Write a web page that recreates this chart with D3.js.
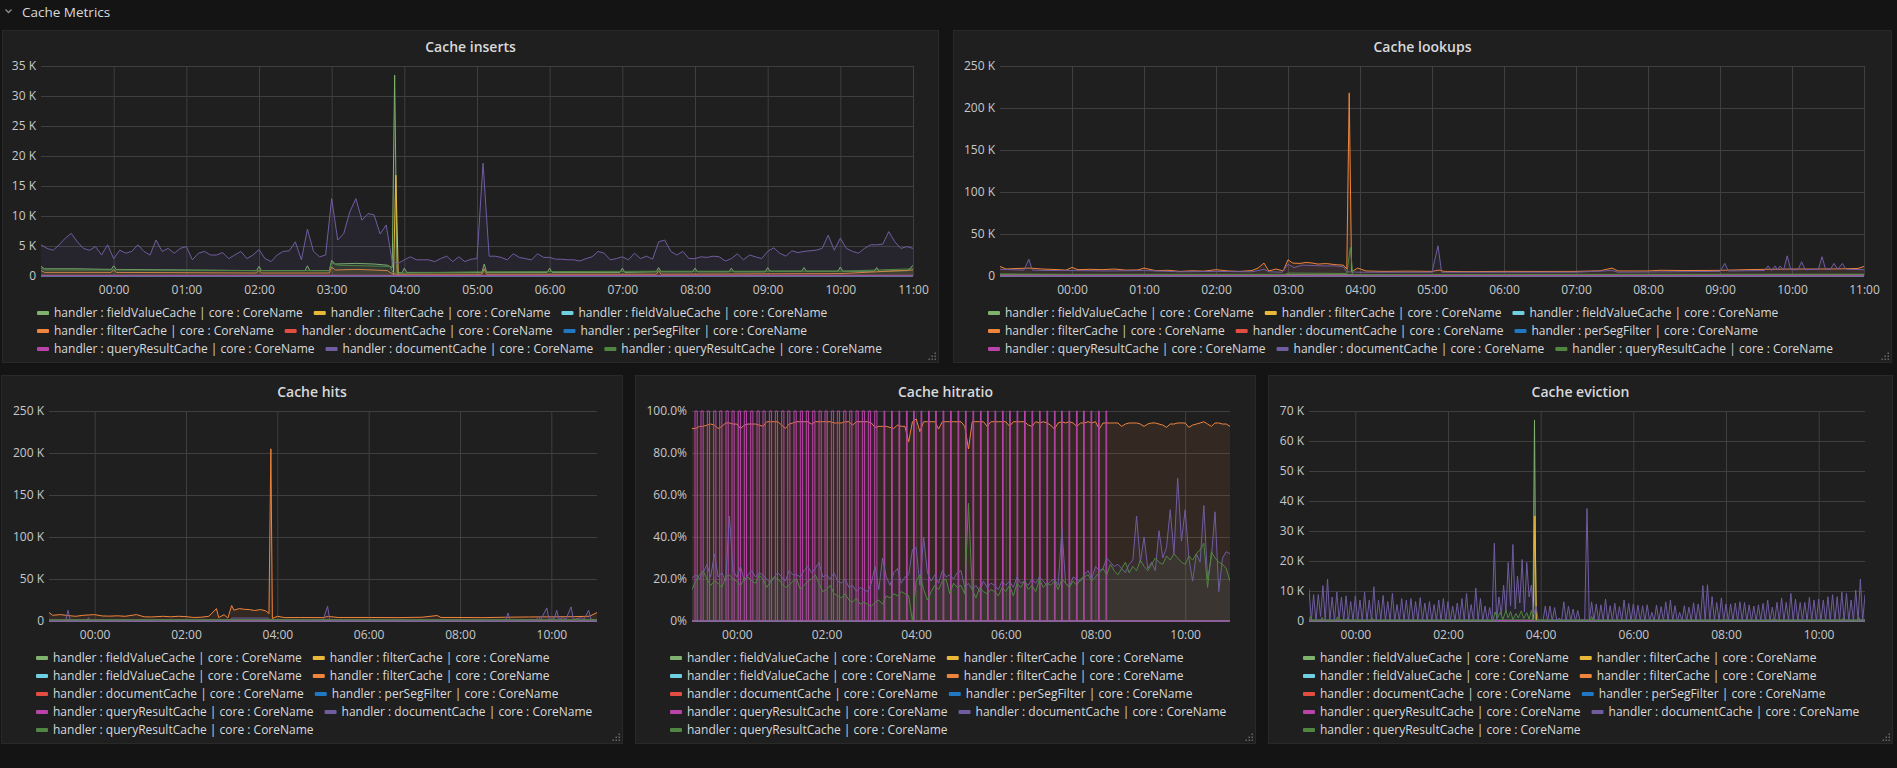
<!DOCTYPE html>
<html>
<head>
<meta charset="utf-8">
<title>Cache Metrics</title>
<script src="https://cdn.jsdelivr.net/npm/d3@7"></script>
<style>
  html, body { margin: 0; padding: 0; background: #141414; overflow: hidden; }
  svg { display: block; font-family: "Open Sans", "DejaVu Sans", sans-serif; }
</style>
</head>
<body>
<svg id="dash" width="1897" height="768"></svg>
<script>
// time is in minutes after midnight, the dashboard shows 23:00 .. 11:00
var T0 = -60, T1 = 660;

var legendNames = [
  "handler : fieldValueCache | core : CoreName",
  "handler : filterCache | core : CoreName",
  "handler : fieldValueCache | core : CoreName",
  "handler : filterCache | core : CoreName",
  "handler : documentCache | core : CoreName",
  "handler : perSegFilter | core : CoreName",
  "handler : queryResultCache | core : CoreName",
  "handler : documentCache | core : CoreName",
  "handler : queryResultCache | core : CoreName"
];
var seriesColors = ["#7eb26d", "#eab839", "#6ed0e0", "#ef843c", "#e24d42", "#1f78c1", "#ba43a9", "#705da0", "#508642"];

var hourTicks = [0, 1, 2, 3, 4, 5, 6, 7, 8, 9, 10, 11];
var twoHourTicks = [0, 2, 4, 6, 8, 10];
var insertsTicks = [0, 5, 10, 15, 20, 25, 30, 35];
var lookupsTicks = [0, 50, 100, 150, 200, 250];
var ratioTicks = [0, 20, 40, 60, 80, 100];
var evictionTicks = [0, 10, 20, 30, 40, 50, 60, 70];

var flatZero = [[-60, 0], [660, 0]];

// ---- Cache inserts (K), plain arrays are evenly spaced from 23:00 to 11:00
var insertsDocument = [
  5.2,4.6,4.3,5.2,6.3,7.1,5.7,4.6,4.3,4.9,3.5,5.2,
  2.9,4.3,3.8,4.1,5.2,4.1,3.5,6.0,4.1,4.6,3.8,4.6,
  4.9,2.7,3.8,4.1,3.5,3.5,3.9,2.9,3.5,4.1,2.9,3.5,
  4.4,2.9,2.4,3.5,4.1,4.2,5.7,2.7,7.8,4.1,3.2,3.5,
  12.9,6.0,7.1,10.7,12.9,9.3,10.4,10.2,7.0,8.5,2.4,2.1,
  2.7,3.2,2.7,2.7,2.7,2.4,2.9,3.3,2.4,3.2,2.4,2.8,
  2.9,18.8,3.3,3.3,3.1,2.7,3.7,3.1,2.9,2.7,3.7,3.1,
  3.1,2.8,2.8,2.7,2.7,2.5,2.9,3.2,4.1,3.8,2.7,2.9,
  3.2,2.7,3.8,2.9,3.3,2.8,5.7,6.0,4.1,3.5,4.1,2.9,
  2.9,3.2,3.1,3.3,3.2,2.5,2.9,3.7,2.7,3.5,3.2,2.9,
  4.1,4.7,3.8,3.3,4.2,3.9,4.1,4.2,4.3,4.6,6.8,4.3,
  6.3,4.6,4.1,3.8,4.6,5.2,5.2,5.3,7.4,5.7,4.6,4.9,
  4.6
];
var insertsFieldValue = [[-60,1.6],[-57,1.2],[-30,1.2],[-2,1.1],[0,1.7],[2,1.1],[60,1.0],[118,0.9],[120,1.6],[122,0.9],
  [158,0.9],[160,1.7],[162,0.9],[178,0.9],[180,2.6],[183,2.0],[200,2.1],[215,2.0],[226,1.8],[230,1.4],[232,33.5],[234,0.6],
  [238,0.5],[240,1.3],[242,0.6],[304,0.6],[306,2.0],[308,0.6],[358,0.6],[360,1.3],[362,0.6],[418,0.6],[420,1.3],[422,0.6],
  [448,0.7],[450,1.4],[452,0.7],[478,0.7],[480,1.3],[482,0.7],[508,0.7],[510,1.3],[512,0.7],[538,0.7],[540,1.4],[542,0.8],
  [568,0.8],[570,1.4],[572,0.8],[598,0.8],[600,1.5],[602,0.8],[628,0.8],[630,1.4],[632,0.8],[656,0.9],[660,1.8]];
var insertsFilterSpike = [[-60,0.1],[231,0.1],[233,16.8],[235,0.1],[660,0.1]];
var insertsFilter = [[-60,0.9],[-57,0.6],[-2,0.6],[0,1.1],[2,0.6],[118,0.5],[120,1.0],[122,0.5],[178,0.5],[180,1.5],
  [183,1.0],[200,1.1],[215,1.0],[226,0.9],[229,0.5],[232,0.3],[304,0.3],[306,1.2],[308,0.3],[448,0.3],[450,0.9],[452,0.3],
  [600,0.4],[660,1.0]];
var insertsQueryResult = [[-60,0.1],[660,0.1]];
var insertsQueryResultGreen = [[-60,1.3],[-57,1.0],[0,1.0],[120,0.9],[178,0.9],[180,2.2],[185,1.8],[228,1.6],[231,0.5],
  [240,0.5],[306,0.7],[450,0.8],[600,0.8],[660,1.2]];

// ---- Cache lookups (K)
var lookupsFilter = [[-60,11.4],[-55,8.3],[-45,9.0],[-35,9.4],[-25,8.3],[-15,7.8],[-5,7.0],[0,10.2],[5,7.5],[15,8.0],
  [25,7.5],[35,8.3],[45,7.0],[55,7.2],[60,9.4],[70,6.3],[80,6.8],[90,5.5],[100,6.2],[110,5.8],[120,7.5],[130,6.0],
  [140,5.5],[150,6.5],[155,9.4],[160,15.4],[164,6.0],[170,8.3],[176,6.0],[180,19.3],[184,15.4],[190,15.0],[195,16.1],
  [200,15.5],[205,14.2],[212,14.8],[220,13.4],[226,13.0],[229,8.3],[231,218],[233,5.0],[238,9.4],[245,6.0],[260,5.5],
  [280,5.8],[300,5.5],[306,7.0],[310,5.5],[330,5.2],[360,5.5],[390,5.4],[420,5.5],[440,6.2],[450,9.4],[455,6.0],
  [480,6.0],[490,6.8],[510,6.5],[540,6.7],[560,7.5],[580,8.0],[600,8.3],[620,8.3],[640,8.5],[655,9.0],[660,11.4]];
var lookupsDocument = [[-60,8],[-50,7.5],[-40,7],[-36,20],[-33,7],[-20,6.5],[0,6.5],[30,6],[60,6.5],[90,5],[120,5.5],
  [150,5],[160,8],[164,5],[175,4.5],[180,14],[185,10],[192,13],[200,12.5],[210,12],[220,12],[226,11],[229,5],[240,4.5],
  [300,4.5],[305,36],[308,4.5],[360,4.5],[420,4.5],[450,6.5],[455,4.5],[500,5],[540,5.5],[544,15],[547,6],[577,6.5],
  [580,12],[583,6.5],[586,12],[588,7],[590,12],[593,7],[596,24],[599,7.5],[605,7.5],[608,17],[611,7.5],[622,8],[625,23],
  [628,8],[632,8],[635,15],[638,8],[642,15],[645,8],[660,7.5]];
var lookupsFieldValue = [[-60,1.5],[660,1.5]];
var lookupsQueryResult = [[-60,0.4],[660,0.4]];
var lookupsQueryResultGreen = [[-60,2.5],[0,2],[178,2],[180,3.5],[229,3],[232,34],[234,1.5],[300,1.8],[660,2.2]];

// ---- Cache hits (K)
var hitsFilter = [[-60,10],[-55,6.8],[-45,7.6],[-35,6.5],[-25,5.6],[-15,6.8],[0,7.6],[10,6],[20,5.8],[30,6.2],[40,5.6],
  [55,7.6],[65,5],[75,4.8],[90,5.6],[100,5],[110,5.6],[120,5.2],[130,4.2],[140,4.5],[150,5.6],[160,14.8],[163,4.0],
  [170,7.5],[175,3.5],[180,18.4],[183,12.8],[190,14.8],[196,14.0],[203,13.6],[210,12.5],[218,13.6],[225,12],[229,8.8],
  [231.5,205],[233.5,3.0],[240,5.6],[250,4.0],[270,4.2],[300,4.0],[307,5.5],[320,4.2],[360,4.2],[400,4.0],[430,4.5],
  [450,6.5],[455,4.2],[480,4.2],[510,4.0],[540,4.5],[570,4.8],[600,5.0],[630,5.2],[650,5.6],[660,10]];
var hitsDocument = [[-60,1],[-38,1],[-35,12.8],[-32,1],[-10,1.2],[-8,4],[-6,1],[178,1],[180,3.5],[228,3.5],[231,1],
  [300,1],[306,17.6],[309,1],[540,1],[543,9.6],[546,1],[580,1.5],[583,5],[586,1.5],[594,15.6],[597,2],[604,3],[607,12.8],
  [610,2],[615,4],[619,2],[626,16.8],[629,2],[640,4],[643,2],[649,12.8],[652,2],[660,1]];
var hitsFieldValue = [[-60,1.0],[660,1.0]];
var hitsQueryResult = [[-60,0.2],[660,0.2]];
var hitsQueryResultGreen = [[-60,1.3],[180,1.5],[230,1.5],[660,1.3]];

// ---- Cache hitratio (%)
var ratioFilter = [
  91.7,91.7,92.7,92.7,93.3,93.8,93.3,91.7,92.7,94.3,94.3,93.8,
  93.8,91.7,93.3,93.8,93.8,93.8,93.3,92.7,94.9,94.9,94.9,94.9,
  93.3,91.7,93.8,94.3,94.9,94.9,94.9,94.9,93.8,94.9,94.9,94.9,
  94.9,94.9,94.3,94.3,94.3,94.9,94.9,93.3,94.9,94.9,94.9,94.9,
  94.3,92.2,92.7,92.7,92.7,92.2,91.7,93.3,92.7,92.7,85.4,94.9,
  96.2,90.2,94.9,94.9,94.9,94.9,91.4,94.9,94.9,94.9,94.9,94.9,
  94.9,92.7,81.9,94.9,94.9,94.9,94.9,92.7,94.9,94.9,94.9,94.9,
  94.9,92.7,94.9,94.9,94.9,94.9,93.3,92.7,94.9,94.3,94.9,94.3,
  93.3,91.4,94.3,94.9,94.3,94.9,94.3,92.7,94.3,94.3,94.9,94.3,
  94.9,91.4,94.3,94.3,94.3,94.3,94.3,92.7,93.8,94.3,94.3,94.3,
  93.8,92.7,93.8,94.3,94.3,93.8,93.3,92.2,93.8,93.8,94.3,94.3,
  94.3,92.2,93.3,93.8,94.3,94.9,93.8,92.7,94.3,94.3,93.8,93.8,
  92.7
];
var ratioDocument = [
  20.5,22,20,23,27,21,32,21,23,19,50,24,
  21,26,19,22,24,21,23,22,20,18,21,23,
  21,19,24,22,22,21,24,26,23,25,28,21,
  22,20,23,19,18,20,16,17,14,16,15,14,
  18,26,15,30,21,17,23,25,18,21,22,34,
  35,17,40,23,19,22,18,24,21,22,20,23,
  24,16,18,15,17,14,19,16,18,17,15,19,
  17,19,16,21,18,19,17,20,18,21,19,17,
  19,20,17,44,18,16,21,20,19,22,24,20,
  26,24,25,30,28,26,27,25,23,27,29,50,
  28,40,25,28,24,43,30,35,53,32,68,38,
  53,30,19,32,28,55,20,30,52,14,30,33,
  32
];
var ratioQueryResultGreen = [
  15,19,22,24,20,17,19,18,16,21,22,20,
  19,17,20,21,19,18,22,20,16,19,21,20,
  18,16,17,19,20,15,17,19,20,22,18,14,
  15,17,13,12,11,13,10,9,11,8,9,8,
  7,9,10,8,12,11,13,12,14,13,12,0,
  19,22,15,10,14,17,15,19,20,13,18,16,
  17,13,56,15,11,16,14,13,15,14,12,16,
  14,17,12,18,16,19,15,17,14,20,16,18,
  17,19,15,20,18,16,19,17,20,21,22,19,
  21,23,25,22,27,24,22,25,28,23,26,24,
  29,26,24,27,30,28,27,31,29,32,30,28,
  27,31,29,32,34,37,16,33,30,28,27,25,
  19
];
// queryResultCache jumps between 0 and 100 %: [up, down] in minutes
var ratioQueryResultHigh = 100;
var ratioQueryResultPulses = [
  [-56,-53],[-48,-45],[-39.5,-36.5],[-31,-28],[-23,-20],[-14.5,-11.5],[-6.5,-3.5],[2,5],[10,13],[18.5,21.5],
  [27,30],[35,38],[43.5,46.5],[51.5,54.5],[60,63],[68,71],[76.5,79.5],[85,88],[93,96],[101.5,104.5],
  [110,113],[118,121],[126.5,129.5],[134.5,137.5],[143,146],[151,154],[159.5,162.5],[168,171],[176,179],[184.5,187.5],
  [197,198],[207,208],[217,218],[227,228],[236.5,237.5],[246.5,247.5],[256.5,257.5],[266,267],[276,277],[286,287],
  [296,297],[306,307],[316,317],[326,327],[335.5,336.5],[345.5,346.5],[355.5,356.5],[365,366],[375,376],[385,386],
  [395,396],[405,406],[415,416],[425,426],[434.5,435.5],[444.5,445.5],[454.5,455.5],[464,465],[474,475],[484,485],[494,495]
];

// ---- Cache eviction (K)
var evictionDocument = [
  10.7,0, 8.8,0, 8.8,1.5, 11.8,0, 14.0,0, 8.0,0, 9.7,0.5, 8.0,0, 8.4,0, 6.5,0,
  8.4,0, 7.0,0, 9.6,0, 7.0,0, 11.4,0, 7.0,0.5, 8.5,0, 6.5,0, 9.2,0, 5.5,0,
  7.5,0, 7.0,0, 7.5,0, 6.5,0, 7.8,0, 6.0,0, 6.5,0, 5.5,0, 7.0,0, 7.5,0,
  6.5,0, 5.0,0, 6.0,0, 7.5,0, 9.2,0, 5.5,0, 11.0,0, 7.5,0, 5.0,0, 4.5,0,
  25.9,0, 8.0,2, 12.0,3, 19.5,5, 25.5,4, 15.0,6, 20.5,3, 19.5,8, 12.0,2, 5.0,0,
  0,0, 5.0,0, 5.0,0, 4.5,0, 1.0,0, 6.4,0, 5.0,0, 4.0,0, 3.5,0, 0.5,0,
  37.5,0, 6.4,0, 5.7,0, 5.4,0, 7.3,0, 5.1,0, 5.9,0, 4.8,0, 7.0,0, 5.9,0,
  5.7,0, 5.3,0, 5.1,0, 5.4,0, 2.9,0, 5.3,0, 4.8,0, 6.4,0, 7.0,0, 5.1,0,
  2.9,0, 5.1,0, 4.6,0, 6.1,0, 5.7,0, 11.8,0, 12.1,0, 8.1,0, 6.2,0, 7.7,0,
  5.7,0, 5.7,0, 6.0,0, 6.4,0, 6.2,0, 5.4,0, 5.0,0, 5.4,0, 5.9,0, 7.0,0,
  4.6,0, 6.2,0, 7.7,0, 6.2,0, 9.2,0, 7.3,0, 6.2,0, 6.2,0, 7.9,0, 7.0,0,
  7.3,0, 7.0,0, 8.1,0, 8.8,0, 8.1,0, 9.6,0, 9.2,0, 7.0,0, 10.3,0, 14.0,0,
  8.8
];
var evictionFieldValue = [[-60,0.3],[230,0.3],[232,67],[234,0.3],[660,0.3]];
var evictionFilterSpike = [[-60,0],[230.5,0],[232.5,35],[234.5,0],[660,0]];
var evictionQueryResult = [[-60,0.15],[660,0.15]];
var evictionQueryResultGreen = [[-60,0.2],[-58,1.6],[-56,0.2],[-45,0.3],[-43,1.2],[-41,0.2],[-25,0.2],[-23,1.4],[-21,0.2],
  [-12,0.2],[-10,1.0],[-8,0.2],[20,0.2],[22,1.0],[24,0.2],[100,0.2],[178,0.2],[181,3],[184,1],[188,3],[191,0.5],[195,3.5],
  [198,1],[201,3.2],[204,0.5],[208,2.5],[211,1],[215,3.4],[218,0.8],[222,2.8],[225,0.6],[228,3.5],[231,0.2],[304,0.2],
  [306,1.5],[308,0.2],[540,0.2],[542,0.8],[544,0.2],[630,0.2],[632,1.0],[634,0.2],[650,0.2],[652,1.2],[654,0.2],[660,0.4]];

function fmtK(v) { return v === 0 ? "0" : v + " K"; }
function fmtPct(v) { return v === 0 ? "0%" : v.toFixed(1) + "%"; }
function fmtHour(m) { var h = m / 60; return (h < 10 ? "0" : "") + h + ":00"; }

function toPoints(d) {
  if (typeof d[0] === "number") {
    var step = (T1 - T0) / (d.length - 1);
    return d.map(function(v, i) { return [T0 + i * step, v]; });
  }
  return d;
}

function pulsePoints(pulses, high) {
  var pts = [[T0, 0]];
  pulses.forEach(function(p) { pts.push([p[0], 0], [p[0], high], [p[1], high], [p[1], 0]); });
  pts.push([T1, 0]);
  return pts;
}

var panels = [
  { title: "Cache inserts", box: [2, 30, 937, 333], plot: [41, 66, 913, 276], yTicks: insertsTicks, xTicks: hourTicks, fmt: fmtK,
    series: [insertsFieldValue, insertsFilterSpike, flatZero, insertsFilter, flatZero, flatZero, insertsQueryResult, insertsDocument, insertsQueryResultGreen] },
  { title: "Cache lookups", box: [953, 30, 939, 333], plot: [1000, 66, 1864, 276], yTicks: lookupsTicks, xTicks: hourTicks, fmt: fmtK,
    series: [lookupsFieldValue, flatZero, flatZero, lookupsFilter, flatZero, flatZero, lookupsQueryResult, lookupsDocument, lookupsQueryResultGreen] },
  { title: "Cache hits", box: [1, 375, 622, 369], plot: [49, 411, 597, 621], yTicks: lookupsTicks, xTicks: twoHourTicks, fmt: fmtK,
    series: [hitsFieldValue, flatZero, flatZero, hitsFilter, flatZero, flatZero, hitsQueryResult, hitsDocument, hitsQueryResultGreen] },
  { title: "Cache hitratio", box: [635, 375, 621, 369], plot: [692, 411, 1230, 621], yTicks: ratioTicks, xTicks: twoHourTicks, fmt: fmtPct,
    series: [flatZero, flatZero, flatZero, ratioFilter, flatZero, flatZero, pulsePoints(ratioQueryResultPulses, ratioQueryResultHigh), ratioDocument, ratioQueryResultGreen] },
  { title: "Cache eviction", box: [1268, 375, 625, 369], plot: [1309, 411, 1865, 621], yTicks: evictionTicks, xTicks: twoHourTicks, fmt: fmtK,
    series: [evictionFieldValue, evictionFilterSpike, flatZero, flatZero, flatZero, flatZero, evictionQueryResult, evictionDocument, evictionQueryResultGreen] }
];

var svg = d3.select("#dash");

// row header
svg.append("path").attr("d", "M5.5,9.5 L8.5,12.5 L11.5,9.5")
   .attr("fill", "none").attr("stroke", "#8e8e8e").attr("stroke-width", 1.3);
svg.append("text").attr("x", 22).attr("y", 16.5).attr("font-size", 13.5).attr("fill", "#d8d9da").text("Cache Metrics");

panels.forEach(function(p, pi) {
  var bx = p.box[0], by = p.box[1], bw = p.box[2], bh = p.box[3];
  var pl = p.plot[0], pt = p.plot[1], pr = p.plot[2], pb = p.plot[3];
  var g = svg.append("g");

  g.append("rect").attr("x", bx + 0.5).attr("y", by + 0.5).attr("width", bw - 1).attr("height", bh - 1)
   .attr("fill", "#1f1f20").attr("stroke", "#292929");

  g.append("text").attr("x", bx + bw / 2).attr("y", by + 21.5).attr("text-anchor", "middle")
   .attr("font-size", 14).attr("font-weight", 600).attr("fill", "#d8d9da").text(p.title);

  var x = d3.scaleLinear().domain([T0, T1]).range([pl, pr]);
  var y = d3.scaleLinear().domain([0, d3.max(p.yTicks)]).range([pb, pt]);

  var yAxis = g.append("g").attr("transform", "translate(" + pl + ",0)")
    .call(d3.axisLeft(y).tickValues(p.yTicks).tickFormat(p.fmt).tickSize(-(pr - pl)).tickPadding(5));
  var xAxis = g.append("g").attr("transform", "translate(0," + pb + ")")
    .call(d3.axisBottom(x).tickValues(p.xTicks.map(function(h) { return h * 60; }))
      .tickFormat(fmtHour).tickSize(-(pb - pt)).tickPadding(9));
  [yAxis, xAxis].forEach(function(a) {
    a.attr("font-size", 12).attr("font-family", null);
    a.select(".domain").remove();
    a.selectAll(".tick line").attr("stroke", "#3f3f3f");
    a.selectAll(".tick text").attr("fill", "#c7c8c9");
  });

  // series, fill 10% under every line like grafana
  var clipId = "clip" + pi;
  g.append("clipPath").attr("id", clipId).append("rect")
   .attr("x", pl).attr("y", pt - 1).attr("width", pr - pl).attr("height", pb - pt + 2);
  var plotG = g.append("g").attr("clip-path", "url(#" + clipId + ")");
  var line = d3.line().x(function(d) { return x(d[0]); }).y(function(d) { return y(d[1]); });
  var area = d3.area().x(function(d) { return x(d[0]); }).y0(y(0)).y1(function(d) { return y(d[1]); });

  p.series.forEach(function(s, k) {
    var pts = toPoints(s);
    plotG.append("path").datum(pts).attr("d", area)
         .attr("fill", seriesColors[k]).attr("fill-opacity", 0.1);
    plotG.append("path").datum(pts).attr("d", line)
         .attr("fill", "none").attr("stroke", seriesColors[k]).attr("stroke-width", 1);
  });

  // legend, items flow and wrap like inline blocks
  var legend = g.append("g").attr("font-size", 12).attr("fill", "#d8d9da");
  var startX = bx + 35, lx = startX, ly = pb + 37, maxX = bx + bw - 6;
  legendNames.forEach(function(name, k) {
    var item = legend.append("g");
    var t = item.append("text").attr("x", 17).attr("y", 4.3).text(name);
    var w = 17 + t.node().getComputedTextLength();
    if (lx + w > maxX && lx > startX) { lx = startX; ly += 18; }
    item.attr("transform", "translate(" + lx + "," + ly + ")");
    item.append("rect").attr("x", 0).attr("y", -2).attr("width", 12).attr("height", 4)
        .attr("rx", 1).attr("fill", seriesColors[k]);
    lx += w + 11;
  });

  // resize handle in the corner
  var rx = bx + bw - 3, ry = by + bh - 3;
  [[0, 0], [3, 0], [6, 0], [0, 3], [3, 3], [0, 6]].forEach(function(o) {
    g.append("rect").attr("x", rx - o[0] - 1.5).attr("y", ry - o[1] - 1.5)
     .attr("width", 1.5).attr("height", 1.5).attr("fill", "#666");
  });
});
</script>
</body>
</html>
